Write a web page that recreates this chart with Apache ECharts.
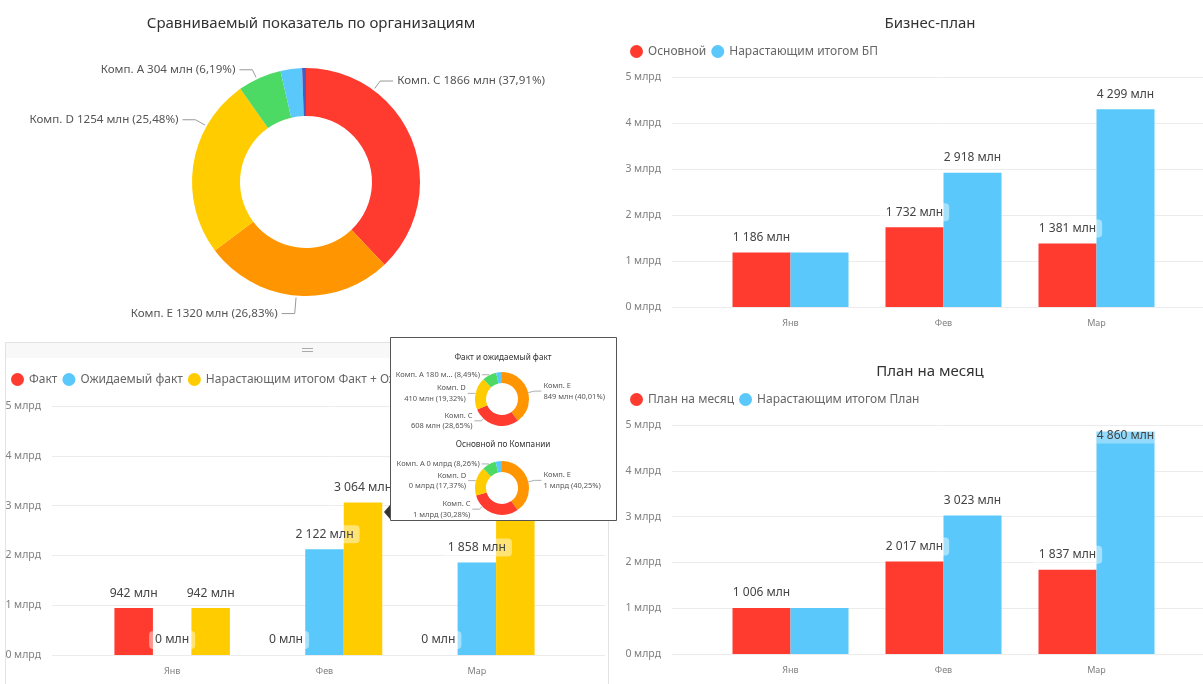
<!DOCTYPE html>
<html><head><meta charset="utf-8">
<script src="https://cdn.jsdelivr.net/npm/echarts@6/dist/echarts.min.js"></script>
<style>html,body{margin:0;padding:0;background:#fff}#c{width:1203px;height:684px}</style>
</head><body><div id="c"></div>
<script>
// ---------- DATA ----------
const months = ['Янв', 'Фев', 'Мар'];
const yTicks = ['0 млрд', '1 млрд', '2 млрд', '3 млрд', '4 млрд', '5 млрд'];
// Сравниваемый показатель по организациям (млн)
const orgNames = ['Комп. C', 'Комп. E', 'Комп. D', 'Комп. A', 'Комп. B', 'Комп. F'];
const orgValues = [1865.8, 1320.4, 1254.0, 304.45, 150, 26.95];
// Бизнес-план (млн)
const bpMain = [1186, 1732, 1381];
const bpCum = [1186, 2918, 4299];
// План на месяц (млн)
const planMonth = [1006, 2017, 1837];
const planCum = [1006, 3023, 4860];
// Факт (млн)
const fact = [942, 0, 0];
const factExpected = [0, 2122, 1858];
const factCum = [942, 3064, 4922];
// Всплывающая подсказка
const tipNames = ['Комп. E', 'Комп. C', 'Комп. D', 'Комп. A', 'Комп. B'];
const tipFactValues = [849, 608, 410, 180.2, 74.8];
const tipMainValues = [697.1, 524.4, 300.8, 143.1, 66.6];

// ---------- STYLE ----------
const FONT = "'Segoe UI', 'Noto Sans', sans-serif";
const COL = { red: '#FF3B30', orange: '#FF9500', yellow: '#FFCC00', green: '#4CD964', blue: '#5AC8FA', navy: '#4A5BC4' };
const orgColors = [COL.red, COL.orange, COL.yellow, COL.green, COL.blue, COL.navy];
const tipColors = [COL.orange, COL.red, COL.yellow, COL.green, COL.blue];
// label nudges (layout only), per slice: [dx, dy]
const pieLabelNudge = [[-47, -55], [5, 8], [18, -43], [3, 1], [0, 0], [0, 0]];
const tipLabelNudge = [[-2, 2], [-8, -9], [8, 1], [6, 4], [0, 0]];

const fmtThousands = v => String(Math.round(v)).replace(/\B(?=(\d{3})+(?!\d))/g, ' ');
const fmtMln = v => fmtThousands(v) + ' млн';
const fmtPct = p => p.toFixed(2).replace('.', ',') + '%';
const sum = a => a.reduce((s, v) => s + v, 0);

const barLabel = (size) => ({
  show: true, position: 'top', distance: 6, fontSize: size, color: '#444', fontFamily: FONT,
  backgroundColor: 'rgba(255,255,255,0.45)', padding: [3, 6], borderRadius: 4,
  formatter: p => fmtMln(p.value)
});

function pieData(names, values, colors) {
  const total = sum(values);
  return names.map((n, i) => {
    const small = values[i] / total < 0.05;
    return {
      name: n, value: values[i], itemStyle: { color: colors[i] },
      label: { show: !small }, labelLine: { show: !small }
    };
  });
}

// moves a donut label and redraws its leader line from the outer arc
function makeLabelLayout(cx, cy, R, nudges, gap, run) {
  return params => {
    const n = nudges[params.dataIndex] || [0, 0];
    const r = params.labelRect;
    const x = r.x + n[0], y = r.y + n[1];
    const ly = y + r.height / 2;
    const right = x + r.width / 2 > cx;
    const end = right ? [x - gap, ly] : [x + r.width + gap, ly];
    const mid = [end[0] + (right ? -run : run), ly];
    const dx = mid[0] - cx, dy = mid[1] - cy, d = Math.hypot(dx, dy);
    const start = [cx + dx / d * R, cy + dy / d * R];
    return { dx: n[0], dy: n[1], labelLinePoints: [start, mid, end] };
  };
}

function axisGrid(gi) {
  return {
    x: { type: 'value', gridIndex: gi, show: false, min: 0, max: 1 },
    y: {
      type: 'value', gridIndex: gi, min: 0, max: 5000, interval: 1000,
      axisLine: { show: false }, axisTick: { show: false },
      axisLabel: { color: '#808080', fontSize: 10.5, fontFamily: FONT, margin: 11, formatter: v => yTicks[Math.round(v / 1000)] },
      splitLine: { lineStyle: { color: '#ececec' } }
    }
  };
}
function dataGrid(gi) {
  return {
    x: {
      type: 'category', gridIndex: gi, data: months,
      axisLine: { show: false }, axisTick: { show: false },
      axisLabel: { color: '#808080', fontSize: 9, fontFamily: FONT, margin: 12 }
    },
    y: { type: 'value', gridIndex: gi, min: 0, max: 5000, show: false, splitLine: { show: false } }
  };
}
const axes = [axisGrid(0), dataGrid(1), axisGrid(2), dataGrid(3), axisGrid(4), dataGrid(5)];

const hideFirst = arr => arr.map((v, i) => i === 0 ? { value: v, label: { show: false } } : v);

const legendBase = {
  icon: 'circle', itemWidth: 13, itemHeight: 13, itemGap: 5, padding: 0,
  textStyle: { fontSize: 12, color: '#666', fontFamily: FONT }
};

const tipPie = (values, cy) => ({
  type: 'pie', z: 110, center: [502, cy], radius: [16, 27], startAngle: 90,
  avoidLabelOverlap: true, silent: true,
  label: {
    fontSize: 7.5, color: '#555', fontFamily: FONT, lineHeight: 10.5, overflow: 'none',
    formatter: p => {
      const big = values === tipMainValues;
      let v = big ? Math.round(p.value / 1000) + ' млрд' : fmtMln(p.value);
      const pct = fmtPct(p.value / sum(values) * 100);
      if (p.percent < 10) {
        let s = p.name + ' ' + v + ' (' + pct + ')';
        if (s.length > 22) s = p.name + ' ' + v.slice(0, 5) + '... (' + pct + ')';
        return s;
      }
      return p.name + '\n' + v + ' (' + pct + ')';
    }
  },
  labelLine: { length: 5, length2: 8, lineStyle: { color: '#999', width: 0.8 } },
  labelLayout: makeLabelLayout(502, cy, 27, tipLabelNudge, 2, 7),
  data: pieData(tipNames, values, tipColors)
});

const titleStyle = { fontSize: 15, fontWeight: 'normal', color: '#333', fontFamily: FONT };

const option = {
  animation: false,
  textStyle: { fontFamily: FONT },
  title: [
    { text: 'Сравниваемый показатель по организациям', left: 306, top: 11, textAlign: 'center', textStyle: titleStyle },
    { text: 'Бизнес-план', left: 925, top: 11, textAlign: 'center', textStyle: titleStyle },
    { text: 'План на месяц', left: 925, top: 359, textAlign: 'center', textStyle: titleStyle }
  ],
  legend: [
    Object.assign({}, legendBase, { left: 630, top: 45, data: ['Основной', 'Нарастающим итогом БП'] }),
    Object.assign({}, legendBase, { left: 630, top: 393, data: ['План на месяц', 'Нарастающим итогом План'] }),
    Object.assign({}, legendBase, { left: 11, top: 373, data: ['Факт', 'Ожидаемый факт', 'Нарастающим итогом Факт + Ожидаемый факт'] })
  ],
  grid: [
    { left: 672, right: 0, top: 77, height: 230 },
    { left: 714, width: 459, top: 77, height: 230 },
    { left: 672, right: 0, top: 425, height: 229 },
    { left: 714, width: 459, top: 425, height: 229 },
    { left: 52, width: 553, top: 406, height: 249 },
    { left: 96, width: 457, top: 406, height: 249 }
  ],
  xAxis: axes.map(a => a.x),
  yAxis: axes.map(a => a.y),
  series: [
    {
      type: 'pie', name: 'org', center: [306, 182], radius: [66, 114], startAngle: 90,
      label: {
        fontSize: 11.6, color: '#555', fontFamily: FONT, overflow: 'none',
        formatter: p => p.name + ' ' + Math.round(p.value) + ' млн (' + fmtPct(p.value / sum(orgValues) * 100) + ')'
      },
      labelLine: { length: 10, length2: 18, lineStyle: { color: '#999' } },
      labelLayout: makeLabelLayout(306, 182, 116, pieLabelNudge, 4, 13),
      data: pieData(orgNames, orgValues, orgColors)
    },
    { type: 'bar', name: 'Основной', xAxisIndex: 1, yAxisIndex: 1, barWidth: 58, barGap: '0%',
      itemStyle: { color: COL.red }, label: barLabel(12), data: bpMain },
    { type: 'bar', name: 'Нарастающим итогом БП', xAxisIndex: 1, yAxisIndex: 1, barWidth: 58, barGap: '0%',
      itemStyle: { color: COL.blue }, label: barLabel(12), data: hideFirst(bpCum) },
    { type: 'bar', name: 'План на месяц', xAxisIndex: 3, yAxisIndex: 3, barWidth: 58, barGap: '0%',
      itemStyle: { color: COL.red }, label: barLabel(12), data: planMonth },
    { type: 'bar', name: 'Нарастающим итогом План', xAxisIndex: 3, yAxisIndex: 3, barWidth: 58, barGap: '0%',
      itemStyle: { color: COL.blue }, label: barLabel(12),
      data: planCum.map((v, i) => i === 0 ? { value: v, label: { show: false } }
        : (v > 4500 ? { value: v, label: { position: 'insideTop', distance: 0, offset: [0, -3], width: 46, align: 'center',
            padding: [1, 6, 2, 6], lineHeight: 12, borderRadius: 0, backgroundColor: 'rgba(255,255,255,0.35)' } } : v)) },
    { type: 'bar', name: 'Факт', xAxisIndex: 5, yAxisIndex: 5, barWidth: 38.5, barGap: '0%',
      itemStyle: { color: COL.red }, label: barLabel(12.2), data: fact },
    { type: 'bar', name: 'Ожидаемый факт', xAxisIndex: 5, yAxisIndex: 5, barWidth: 38.5, barGap: '0%',
      itemStyle: { color: COL.blue }, label: barLabel(12.2), data: factExpected },
    { type: 'bar', name: 'Нарастающим итогом Факт + Ожидаемый факт', xAxisIndex: 5, yAxisIndex: 5, barWidth: 38.5, barGap: '0%',
      itemStyle: { color: COL.yellow }, label: barLabel(12.2), data: factCum },
    tipPie(tipFactValues, 399),
    tipPie(tipMainValues, 488)
  ],
  graphic: [
    { type: 'rect', z: 0, shape: { x: 5.5, y: 342.5, width: 603, height: 342 }, style: { fill: 'none', stroke: '#e3e3e3', lineWidth: 1 } },
    { type: 'rect', z: 0, shape: { x: 6, y: 343, width: 602, height: 15 }, style: { fill: '#f8f8f8' } },
    { type: 'line', z: 1, shape: { x1: 302, y1: 348.5, x2: 313, y2: 348.5 }, style: { stroke: '#aaa', lineWidth: 1 } },
    { type: 'line', z: 1, shape: { x1: 302, y1: 351.5, x2: 313, y2: 351.5 }, style: { stroke: '#aaa', lineWidth: 1 } },
    { type: 'rect', z: 100, shape: { x: 390.5, y: 337.5, width: 226, height: 183 }, style: { fill: '#fff', stroke: '#555', lineWidth: 1 } },
    { type: 'polygon', z: 101, shape: { points: [[390, 505], [384, 512], [390, 519]] }, style: { fill: '#333' } },
    { type: 'text', z: 105, style: { x: 503, y: 358, text: 'Факт и ожидаемый факт', textAlign: 'center', textVerticalAlign: 'middle', fontSize: 8.2, fill: '#333', fontFamily: FONT } },
    { type: 'text', z: 105, style: { x: 503, y: 445, text: 'Основной по Компании', textAlign: 'center', textVerticalAlign: 'middle', fontSize: 8.2, fill: '#333', fontFamily: FONT } }
  ]
};

const chart = echarts.init(document.getElementById('c'), null, { renderer: 'canvas' });
chart.setOption(option);
</script>
</body></html>
